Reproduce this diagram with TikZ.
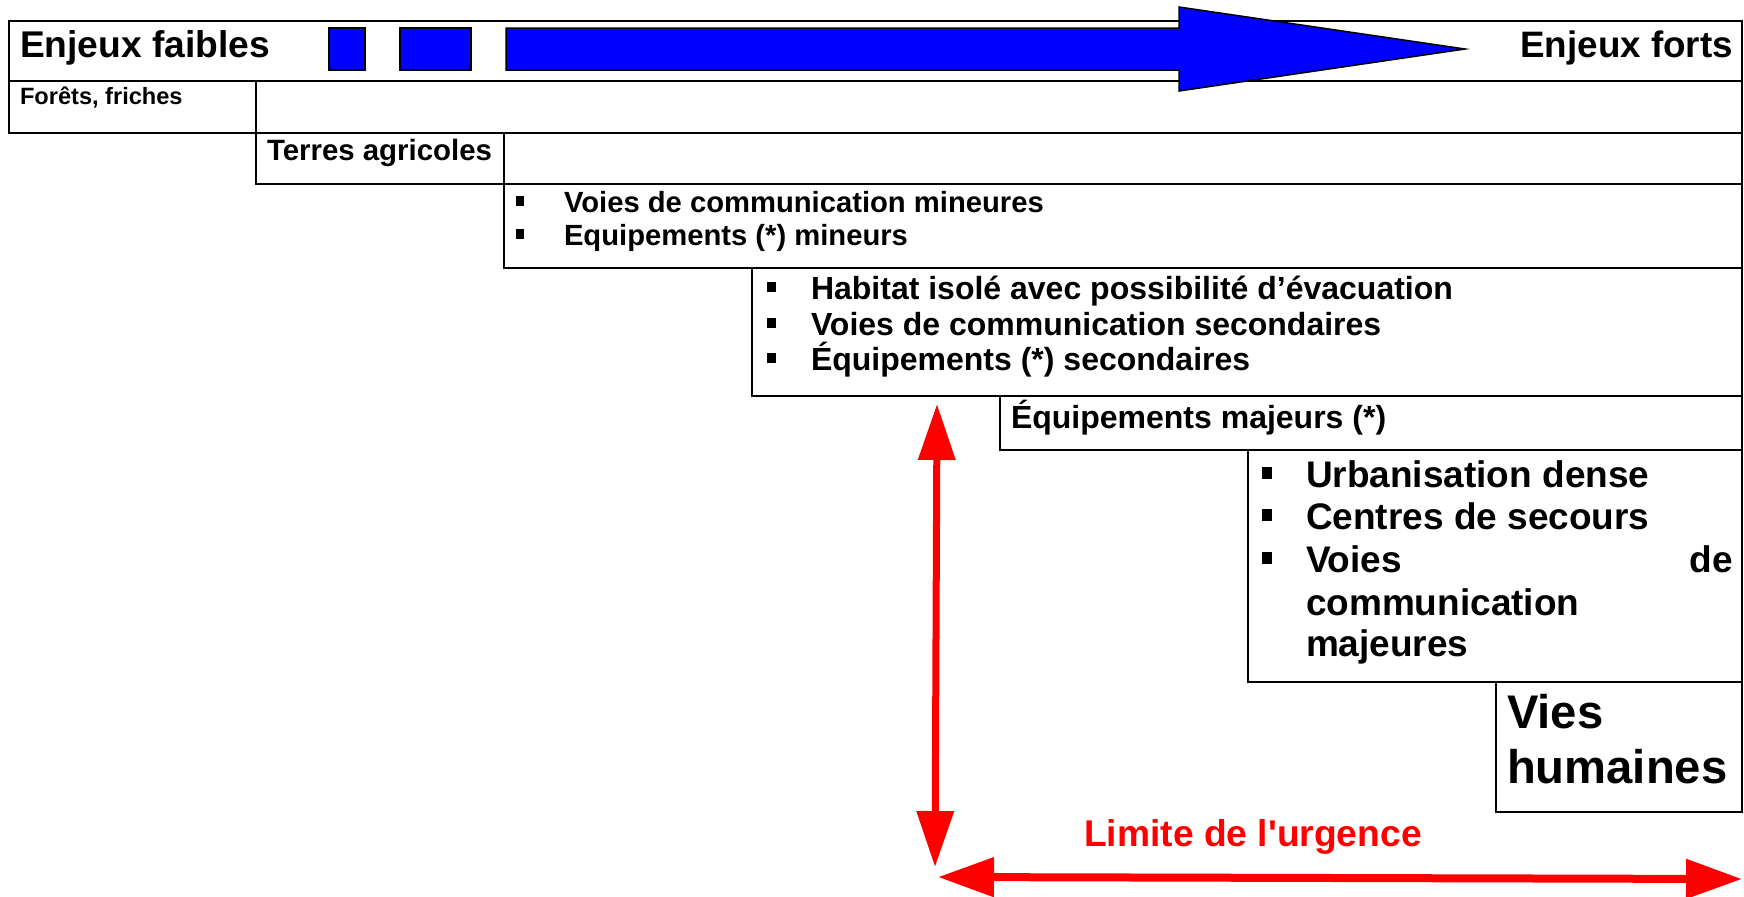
\documentclass[tikz,border=0pt]{standalone}
\usepackage{fontspec}
\newfontfamily\lsans{Liberation Sans}
\usetikzlibrary{arrows.meta,fit}
\newcommand\myfs[1]{\fontsize{#1}{#1}\lsans\bfseries}
\newcommand\blt{\rule[0.22em]{0.28em}{0.32em}}
\definecolor{arrowblue}{RGB}{0,0,255}
\definecolor{limred}{RGB}{255,0,0}
\begin{document}
\begin{tikzpicture}[x=0.5pt,y=-0.5pt,
  box/.style={draw=black,line width=1pt,inner sep=0pt,outer sep=0pt},
  txt/.style={inner sep=0pt,outer sep=0pt,anchor=base west,font=\myfs{#1}},
  bluebox/.style={draw=black,line width=0.75pt,fill=arrowblue},
  redarrow/.style={draw=limred,line width=#1}]
\useasboundingbox (0,0) rectangle (1744,896);

% boxes
\node[box, fit={(9,21) (1742,81)}] (top) {};
\node[box, fit={(9,81) (256,133)}] (foret) {};
\node[box, fit={(256,81) (1742,133)}] (forrow) {};
\node[box, fit={(256,133) (504,184)}] (terres) {};
\node[box, fit={(504,133) (1742,184)}] (terrow) {};
\node[box, fit={(504,184) (1742,268)}] (mineurs) {};
\node[box, fit={(752,268) (1742,396)}] (habitat) {};
\node[box, fit={(1000,396) (1742,450)}] (majeurs) {};
\node[box, fit={(1248,450) (1742,682)}] (urban) {};
\node[box, fit={(1496,682) (1742,812)}] (vies) {};

% blue progression arrow
\draw[bluebox] (329,28) rectangle (365,70);
\draw[bluebox] (400,28) rectangle (471,70);
\draw[bluebox] (506,28) -- (1179,28) -- (1179,7) -- (1465,49) -- (1179,91) -- (1179,70) -- (506,70) -- cycle;

% texts
\node[txt=18.6] (faibles) at (20,57) {Enjeux faibles};
\node[txt=18.4, anchor=base east] (forts) at (1733,57) {Enjeux forts};
\node[txt=11.8] (tforet) at (20,104) {Forêts, friches};
\node[txt=14.7] (tterres) at (267,160) {Terres agricoles};
\node[txt=14.6] (m1) at (516,212) {\makebox[24pt][l]{\blt}Voies de communication mineures};
\node[txt=14.6] (m2) at (516,245) {\makebox[24pt][l]{\blt}Equipements (*) mineurs};
\node[txt=16] (h1) at (767,299) {\makebox[22pt][l]{\blt}Habitat isolé avec possibilité d’évacuation};
\node[txt=16] (h2) at (767,335) {\makebox[22pt][l]{\blt}Voies de communication secondaires};
\node[txt=16] (h3) at (767,370) {\makebox[22pt][l]{\blt}Équipements (*) secondaires};
\node[txt=16] (tmaj) at (1011,428) {Équipements majeurs (*)};
\node[txt=18.5] (u1) at (1262,487) {\makebox[22pt][l]{\blt}Urbanisation dense};
\node[txt=18.5] (u2) at (1262,529) {\makebox[22pt][l]{\blt}Centres de secours};
\node[txt=18.5] (u3) at (1262,572) {\makebox[22pt][l]{\blt}\makebox[213.5pt][l]{Voies\hfill de}};
\node[txt=18.5] (u4) at (1306,615) {communication};
\node[txt=18.5] (u5) at (1306,656) {majeures};
\node[txt=23.6] (v1) at (1507,728) {Vies};
\node[txt=23.6] (v2) at (1507,783) {humaines};
\node[txt=18.6, anchor=base, text=limred] (lim) at (1253,846) {Limite de l'urgence};

% red arrows
\coordinate (vt) at (937,404);
\coordinate (vb) at (935,867);
\coordinate (hl) at (938,877);
\coordinate (hr) at (1742,879);
\draw[redarrow=3.5pt, {Triangle[length=28pt,width=18pt]}-{Triangle[length=28pt,width=18pt]}] (vt) -- (vb);
\draw[redarrow=4pt, {Triangle[length=28pt,width=19pt]}-{Triangle[length=28pt,width=19pt]}] (hl) -- (hr);
\end{tikzpicture}
\end{document}
